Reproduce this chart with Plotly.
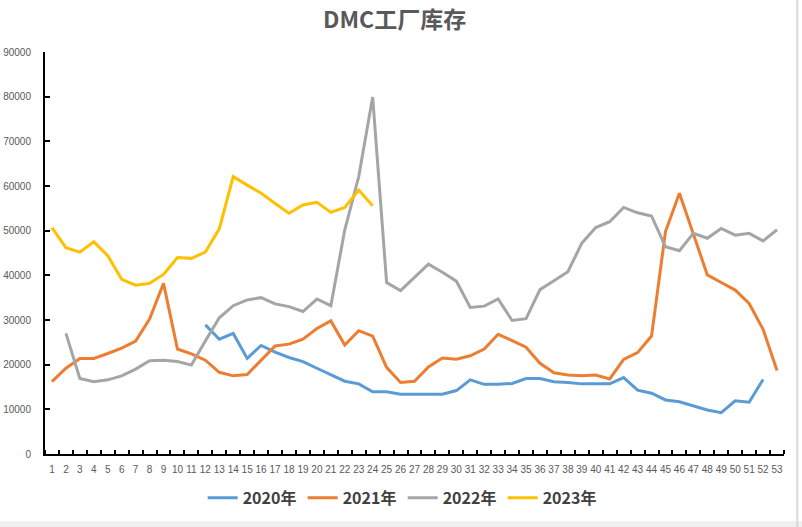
import plotly.graph_objects as go

weeks = list(range(1, 54))

y2020 = [None]*11 + [28900, 25700, 27000, 21400, 24300, 22800, 21600, 20700, 19200, 17800,
         16300, 15700, 13950, 13950, 13400, 13400, 13400, 13400, 14200, 16600, 15600, 15600,
         15800, 16900, 16900, 16200, 16000, 15700, 15700, 15700, 17100, 14300, 13600, 12100,
         11700, 10800, 9850, 9250, 11900, 11600, 16700, None]

y2021 = [16200, 19200, 21400, 21400, 22500, 23700, 25300, 30200, 38200, 23500, 22400, 21000,
         18300, 17500, 17800, 21000, 24200, 24600, 25700, 28100, 29800, 24400, 27600, 26400,
         19400, 16000, 16300, 19500, 21500, 21200, 22000, 23500, 26800, 25400, 23900, 20300,
         18200, 17700, 17500, 17700, 16800, 21200, 22700, 26400, 49800, 58400, 49400, 40100,
         38400, 36700, 33700, 27900, 18700]

y2022 = [None, 27000, 16900, 16200, 16600, 17500, 19000, 20900, 21000, 20700, 19900, 25300,
         30500, 33200, 34500, 35000, 33600, 33000, 31900, 34700, 33200, 50200, 62100, 79900,
         38400, 36600, 39600, 42500, 40700, 38700, 32800, 33100, 34700, 29900, 30300, 36800,
         38800, 40800, 47200, 50700, 52000, 55200, 54000, 53300, 46400, 45500, 49400, 48300,
         50500, 49000, 49400, 47700, 50200]

y2023 = [50700, 46200, 45200, 47500, 44400, 39100, 37800, 38200, 40200, 44000, 43800, 45200,
         50400, 62100, 60200, 58400, 56100, 53900, 55750, 56350, 54100, 55200, 59100, 55600] + [None]*29

series = [("2020年", y2020, "#5B9BD5"), ("2021年", y2021, "#ED7D31"),
          ("2022年", y2022, "#A5A5A5"), ("2023年", y2023, "#FFC000")]

fig = go.Figure()
for name, vals, color in series:
    fig.add_trace(go.Scatter(x=weeks, y=vals, mode="lines", name="<b>" + name + "</b>",
                             line=dict(color=color, width=3), connectgaps=False))

tickfont = dict(family="Liberation Sans Narrow, Liberation Sans, sans-serif", size=10, color="#595959")

fig.update_layout(
    width=802, height=527,
    margin=dict(l=45, r=18, t=52, b=73, autoexpand=False),
    paper_bgcolor="white", plot_bgcolor="white",
    title=dict(text="<b>DMC工厂库存</b>", x=0.492, xanchor="center", y=0.962, yanchor="middle",
               font=dict(family="Noto Sans CJK SC", size=23, color="#595959")),
    showlegend=True,
    legend=dict(orientation="h", x=0.484, xanchor="center", y=-0.109, yanchor="middle",
                font=dict(family="Noto Sans CJK SC", size=16, color="#404040"),
                entrywidth=55, itemwidth=30),
    xaxis=dict(range=[0.5, 53.5], tickmode="array", tickvals=weeks, automargin=False,
               ticktext=[str(w) for w in weeks], ticks="", showgrid=False, zeroline=False,
               showline=True, linecolor="black", linewidth=2, tickfont=tickfont,
               tickangle=0, ticklabelstandoff=5,
               minor=dict(tickmode="linear", tick0=0.5, dtick=1, ticks="inside",
                          ticklen=4, tickcolor="black", tickwidth=2, showgrid=False)),
    yaxis=dict(range=[0, 90000], dtick=10000, tickformat="d", showgrid=False, zeroline=False,
               automargin=False,
               showline=True, linecolor="black", linewidth=2, ticks="inside", ticklen=5,
               tickcolor="black", tickwidth=2, tickfont=tickfont, ticklabelstandoff=10),
    shapes=[
        dict(type="line", xref="paper", yref="paper", x0=1.018, x1=1.018, y0=-0.185, y1=1.14,
             line=dict(color="#D9D9D9", width=2)),
        dict(type="rect", xref="paper", yref="paper", x0=-0.07, x1=1.03, y0=-0.167, y1=-0.2,
             line=dict(width=0), fillcolor="#EFEFEF", layer="below"),
    ],
)

fig.write_html("out.html", config={"displayModeBar": False},
               post_script="document.body.style.margin='0';")
